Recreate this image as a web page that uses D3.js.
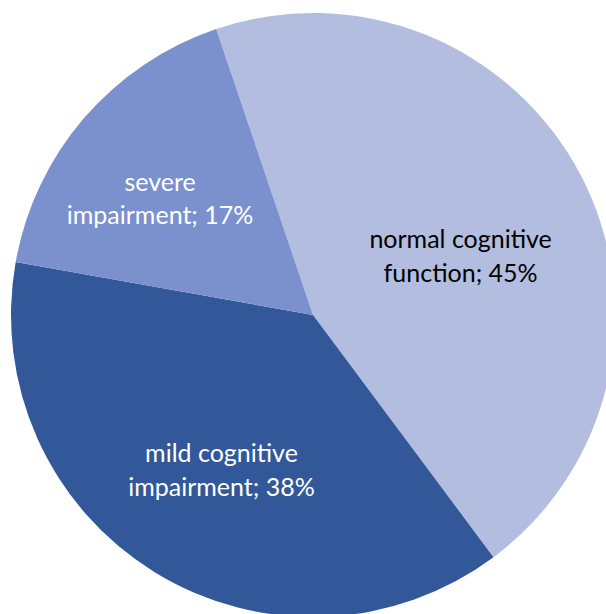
<!DOCTYPE html>
<html>
<head>
<meta charset="utf-8">
<script src="https://cdn.jsdelivr.net/npm/d3@7"></script>
<style>
  html, body { margin: 0; padding: 0; background: #ffffff; }
  svg { display: block; }
</style>
</head>
<body>
<svg id="chart" width="606" height="614"></svg>
<script>
// ---- data ----
const categories = ["normal cognitive function", "mild cognitive impairment", "severe impairment"];
const values = [45, 38, 17];
const labelLines = [
  ["normal cognitive", "function; 45%"],
  ["mild cognitive", "impairment; 38%"],
  ["severe", "impairment; 17%"]
];
const colors = ["#B3BDDF", "#32589A", "#7A91CE"];
const textColors = ["#000000", "#ffffff", "#ffffff"];

// ---- layout ----
const cx = 313, cy = 315, radius = 302;
const startDeg = -18.7;
const labelRadius = 178;
const labelNudge = [[-10, 24], [2, 4], [-18, 0]];
const fontSize = 25, lineGap = 33.5;

const svg = d3.select("#chart");
const g = svg.append("g").attr("transform", `translate(${cx},${cy})`);

const pie = d3.pie()
  .sort(null)
  .value(d => d)
  .startAngle(startDeg * Math.PI / 180)
  .endAngle((startDeg + 360) * Math.PI / 180);

const arcs = pie(values);
const arc = d3.arc().innerRadius(0).outerRadius(radius);
const labelArc = d3.arc().innerRadius(labelRadius).outerRadius(labelRadius);

g.selectAll("path.slice")
  .data(arcs)
  .join("path")
  .attr("class", "slice")
  .attr("d", arc)
  .attr("fill", (d, i) => colors[i]);

const labels = g.selectAll("text.lbl")
  .data(arcs)
  .join("text")
  .attr("class", "lbl")
  .attr("text-anchor", "middle")
  .attr("font-family", "Lato, 'Open Sans', sans-serif")
  .attr("font-size", fontSize)
  .attr("fill", (d, i) => textColors[i])
  .attr("transform", (d, i) => {
    const [x, y] = labelArc.centroid(d);
    return `translate(${x + labelNudge[i][0]},${y + labelNudge[i][1]})`;
  });

labels.each(function(d, i) {
  const t = d3.select(this);
  const lines = labelLines[i];
  lines.forEach((ln, j) => {
    t.append("tspan")
      .attr("x", 0)
      .attr("y", (j - (lines.length - 1) / 2) * lineGap)
      .attr("dy", "0.35em")
      .text(ln);
  });
});
</script>
</body>
</html>
